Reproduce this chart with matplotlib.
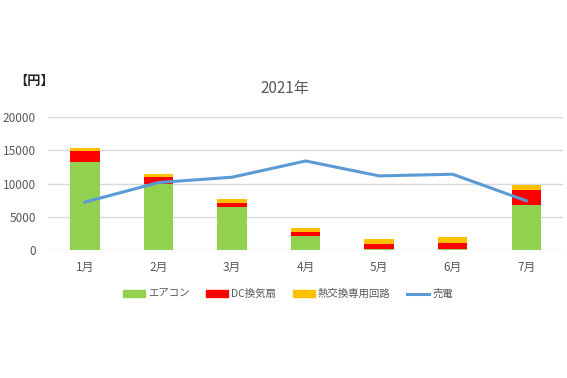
import matplotlib
matplotlib.use("Agg")
import matplotlib.pyplot as plt
import numpy as np
from matplotlib.patches import Patch
from matplotlib.lines import Line2D

plt.rcParams['font.family'] = ['Noto Sans CJK JP', 'DejaVu Sans']

# データ
months = ["1月", "2月", "3月", "4月", "5月", "6月", "7月"]
aircon = [13200, 10000, 6500, 2100, 200, 200, 6700]
dc_fan = [1700, 1000, 600, 600, 700, 900, 2250]
heat_ex = [400, 400, 600, 650, 700, 900, 850]
baiden = [7200, 10150, 10950, 13400, 11150, 11400, 7400]
yticks = [0, 5000, 10000, 15000, 20000]

c_green = "#92D050"
c_red = "#FF0000"
c_yellow = "#FFC000"
c_line = "#5B9BD5"
c_text = "#595959"

fig = plt.figure(figsize=(5.67, 3.78), dpi=100)
ax = fig.add_axes([0.085, 0.339, 0.908, 0.351])

x = np.arange(len(months))
w = 0.4
b1 = np.array(aircon)
b2 = b1 + np.array(dc_fan)
ax.bar(x, aircon, w, color=c_green, zorder=2)
ax.bar(x, dc_fan, w, bottom=b1, color=c_red, zorder=2)
ax.bar(x, heat_ex, w, bottom=b2, color=c_yellow, zorder=2)
ax.plot(x, baiden, color=c_line, linewidth=2.2, zorder=3)

ax.set_xlim(-0.5, len(months) - 0.5)
ax.set_ylim(0, 20000)
ax.set_yticks(yticks)
ax.set_xticks(x)
ax.set_xticklabels(months)
ax.tick_params(axis='both', length=0, colors=c_text, labelsize=8.5)
ax.tick_params(axis='x', pad=8)
ax.tick_params(axis='y', pad=9)
ax.grid(axis='y', color="#D9D9D9", linewidth=1, zorder=0)
for s in ax.spines.values():
    s.set_visible(False)

fig.text(0.503, 0.765, "2021年", ha='center', va='center', fontsize=11, color=c_text)
fig.text(0.026, 0.787, "【円】", ha='left', va='center', fontsize=9.5, color="#262626", fontweight='bold')

handles = [
    Patch(color=c_green, label="エアコン"),
    Patch(color=c_red, label="DC換気扇"),
    Patch(color=c_yellow, label="熱交換専用回路"),
    Line2D([0], [0], color=c_line, linewidth=2.2, label="売電"),
]
leg = fig.legend(handles=handles, loc='center', bbox_to_anchor=(0.508, 0.222), ncol=4,
                 frameon=False, fontsize=7.5, handlelength=2.1, handleheight=0.55,
                 columnspacing=1.6, handletextpad=0.3)
for t in leg.get_texts():
    t.set_color(c_text)

fig.savefig("out.png", dpi=100)
